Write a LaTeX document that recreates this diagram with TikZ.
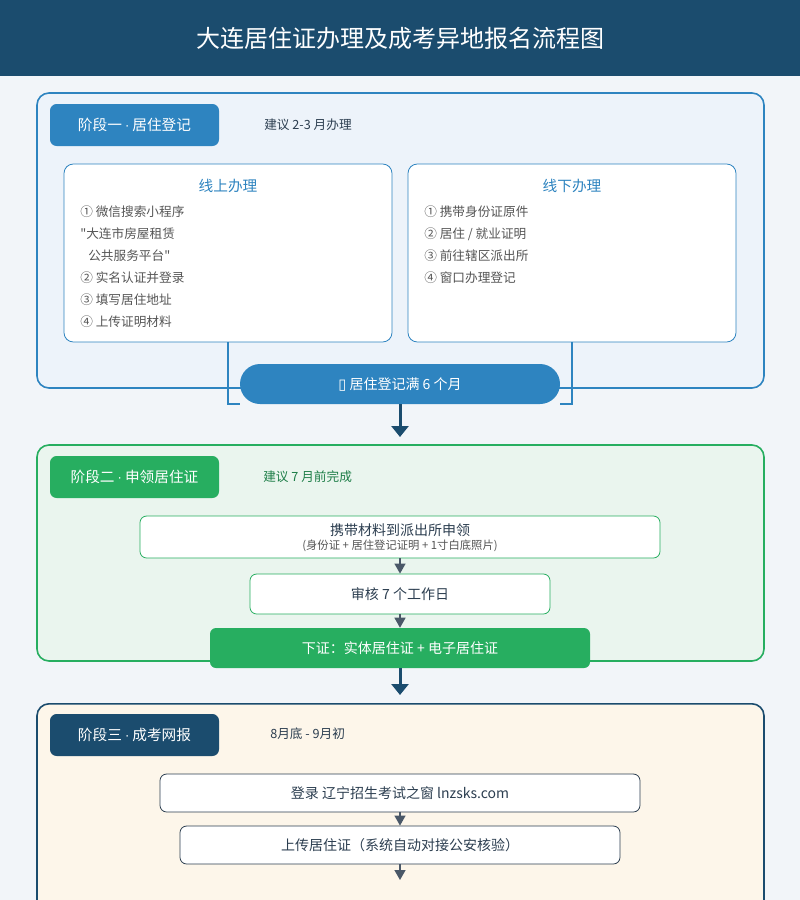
\documentclass[tikz,border=0pt]{standalone}
\usepackage{fontspec}
\setmainfont{Noto Sans CJK SC}
\newfontfamily\symfont{DejaVu Sans}
\newfontfamily\rawfont{Noto Sans CJK SC}[Ligatures=TeXOff]
\usetikzlibrary{arrows.meta}
\definecolor{navy}{HTML}{1B4C6E}
\definecolor{pagebg}{HTML}{F2F5F9}
\definecolor{blueone}{HTML}{2E84C0}
\definecolor{bluefill}{HTML}{EDF3FA}
\definecolor{greenone}{HTML}{27AE60}
\definecolor{greenfill}{HTML}{EAF5EE}
\definecolor{cream}{HTML}{FDF6EA}
\definecolor{darktext}{HTML}{2C3E50}
\definecolor{itemgray}{HTML}{555555}
\definecolor{arrgray}{HTML}{4A5868}
\definecolor{notegreen}{HTML}{1E7E48}
\newcommand{\mdot}{{\symfont\fontsize{9}{11}\selectfont ·}}
\newcommand{\sq}{{\rawfont "}}
\tikzset{
  stagebox/.style={rounded corners=9pt, line width=1.2pt, inner sep=0pt},
  tagbox/.style={rounded corners=5pt, text=white, font=\fontsize{11}{13}\selectfont, minimum width=126.75pt, minimum height=31.5pt, inner sep=0pt},
  note/.style={anchor=west, font=\fontsize{9.5}{11}\selectfont, inner sep=0pt},
  card/.style={draw=blueone, fill=white, rounded corners=7pt, line width=0.6pt, minimum width=246pt, minimum height=133.5pt, inner sep=0pt},
  cardtitle/.style={text=blueone, font=\fontsize{11}{13}\selectfont, inner sep=0pt},
  item/.style={anchor=west, text=itemgray, font=\fontsize{9.5}{11}\selectfont, inner sep=0pt},
  stepbox/.style={fill=white, rounded corners=5pt, line width=0.6pt, inner sep=0pt, text=darktext, font=\fontsize{10.5}{12}\selectfont},
  smallarrow/.style={-{Triangle[width=8.25pt,length=7.5pt]}, line width=1pt, draw=arrgray},
  bigarrow/.style={-{Triangle[width=12.75pt,length=8.25pt]}, line width=2.25pt, draw=navy},
  linkline/.style={draw=blueone, line width=1.2pt},
}
\begin{document}
\begin{tikzpicture}[x=0.75pt, y=-0.75pt]
\useasboundingbox (0,0) rectangle (800,900);
\clip (0,0) rectangle (800,900);
\fill[pagebg] (0,0) rectangle (800,900);
% header
\node[fill=navy, minimum width=600pt, minimum height=57pt, inner sep=0pt, anchor=north west] (header) at (0,0) {};
\node[text=white, font=\fontsize{18}{20}\selectfont] (title) at (400,38) {大连居住证办理及成考异地报名流程图};

% ---------- stage 1
\node[stagebox, draw=blueone, fill=bluefill, minimum width=545.25pt, minimum height=221.25pt] (s1) at (400.5,240.5) {};
\node[tagbox, fill=blueone] (t1) at (134.5,125) {阶段一 \mdot{} 居住登记};
\node[note, text=darktext] (n1) at (264,125) {建议 2-3 月办理};
\node[card] (on) at (228,253) {};
\node[cardtitle] (ontitle) at (228,186) {线上办理};
\node[item] (on1) at (80,212) {① 微信搜索小程序};
\node[item] (on2) at (80,234) {\sq 大连市房屋租赁};
\node[item] (on3) at (88,256) {公共服务平台\sq};
\node[item] (on4) at (80,278) {② 实名认证并登录};
\node[item] (on5) at (80,300) {③ 填写居住地址};
\node[item] (on6) at (80,322) {④ 上传证明材料};
\node[card] (off) at (572,253) {};
\node[cardtitle] (offtitle) at (572,186) {线下办理};
\node[item] (off1) at (424,212) {① 携带身份证原件};
\node[item] (off2) at (424,234) {② 居住 / 就业证明};
\node[item] (off3) at (424,256) {③ 前往辖区派出所};
\node[item] (off4) at (424,278) {④ 窗口办理登记};
\node[fill=blueone, rounded corners=15pt, minimum width=240pt, minimum height=30pt, inner sep=0pt, text=white, font=\fontsize{10.5}{12}\selectfont] (pill) at (400,384) {{\symfont\fontsize{11}{12}\selectfont ▯} 居住登记满 6 个月};
\draw[linkline] (on.south) |- (pill.south west);
\draw[linkline] (off.south) |- (pill.south east);
\coordinate (arrowend1) at (400,437);
\draw[bigarrow] (pill.south) -- (arrowend1);

% ---------- stage 2
\node[stagebox, draw=greenone, fill=greenfill, minimum width=545.25pt, minimum height=162pt] (s2) at (400.5,553) {};
\node[tagbox, fill=greenone] (t2) at (134.5,477) {阶段二 \mdot{} 申领居住证};
\node[note, text=notegreen] (n2) at (263,477) {建议 7 月前完成};
\node[stepbox, draw=greenone, minimum width=390pt, minimum height=31.5pt] (a) at (400,537) {};
\node[text=darktext, font=\fontsize{10.5}{12}\selectfont, inner sep=0pt] (atext) at (400,530) {携带材料到派出所申领};
\node[text=itemgray, font=\fontsize{8.5}{10}\selectfont, inner sep=0pt] (asub) at (400,546) {(身份证 + 居住登记证明 + 1寸白底照片)};
\node[stepbox, draw=greenone, minimum width=225pt, minimum height=30pt] (b) at (400,594) {审核 7 个工作日};
\node[fill=greenone, rounded corners=4.5pt, minimum width=285pt, minimum height=30pt, inner sep=0pt, text=white, font=\fontsize{10.5}{12}\selectfont] (c) at (400,648) {下证：实体居住证 + 电子居住证};
\draw[smallarrow] (a.south) -- (b.north);
\draw[smallarrow] (b.south) -- (c.north);

% ---------- stage 3
\node[stagebox, draw=navy, fill=cream, minimum width=545.25pt, minimum height=225pt, anchor=north] (s3) at (400.5,703) {};
\coordinate (arrowend2) at (400,695);
\draw[bigarrow] (c.south) -- (arrowend2);
\node[tagbox, fill=navy] (t3) at (134.5,735) {阶段三 \mdot{} 成考网报};
\node[note, text=darktext] (n3) at (270,734) {8月底 - 9月初};
\node[stepbox, draw=darktext, minimum width=360pt, minimum height=28.5pt] (d) at (400,793) {登录 辽宁招生考试之窗 lnzsks.com};
\node[stepbox, draw=darktext, minimum width=330pt, minimum height=28.5pt] (e) at (400,845) {上传居住证（系统自动对接公安核验）};
\coordinate (next) at (400,880);
\draw[smallarrow] (d.south) -- (e.north);
\draw[smallarrow] (e.south) -- (next);
\end{tikzpicture}
\end{document}
